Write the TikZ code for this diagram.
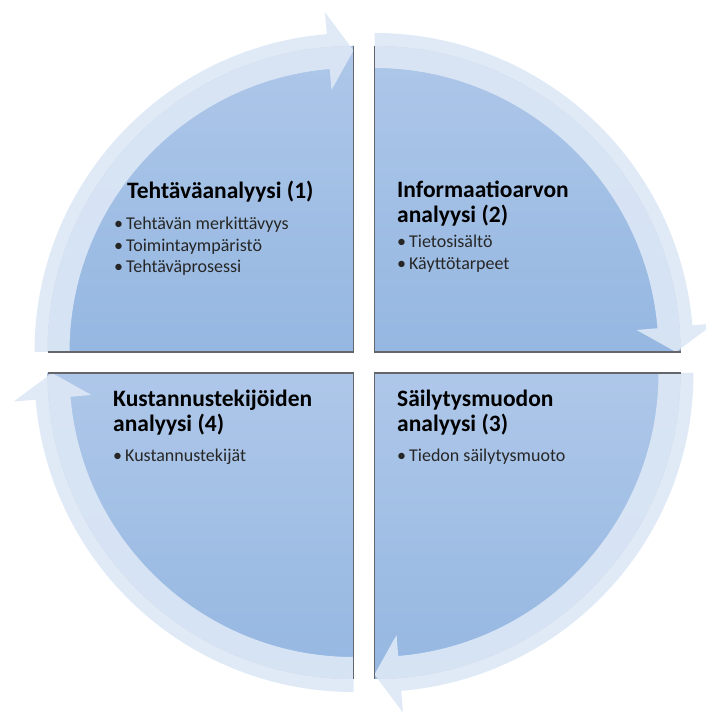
\documentclass[tikz,border=0pt]{standalone}
\usepackage{fontspec}
\setmainfont{Carlito}
\usepackage{tikz}
\usetikzlibrary{positioning}
\definecolor{quartertop}{RGB}{174,199,233}
\definecolor{quarterbottom}{RGB}{149,183,225}
\definecolor{bandblue}{RGB}{221,232,246}
\definecolor{edgegray}{RGB}{100,102,108}
\tikzset{quarter/.style={top color=quartertop,bottom color=quarterbottom,draw=none},
  cycle band/.style={fill=bandblue,fill opacity=0.9},
  edge line/.style={draw=edgegray,line width=1.3pt},
  title text/.style={font=\fontsize{23.5}{25}\selectfont\bfseries,align=left,inner sep=0pt},
  point text/.style={font=\fontsize{18}{21.5}\selectfont,align=left,inner sep=0pt,text=black!85},}

\begin{document}
\begin{tikzpicture}[x=1pt,y=1pt]
    \useasboundingbox (0,0) rectangle (705,715);
    \coordinate (c1) at (353.5,363);
    \coordinate (c2) at (374.5,363);
    \coordinate (c3) at (374.5,342);
    \coordinate (c4) at (353.5,342);

    % quarter discs
    \fill[quarter,shift={(c1)}] (0,0) -- (180:306) arc[start angle=180,end angle=90,radius=306] -- cycle;
    \fill[quarter,shift={(c2)}] (0,0) -- (90:306) arc[start angle=90,end angle=0,radius=306] -- cycle;
    \fill[quarter,shift={(c3)}] (0,0) -- (0:306) arc[start angle=0,end angle=-90,radius=306] -- cycle;
    \fill[quarter,shift={(c4)}] (0,0) -- (-90:306) arc[start angle=-90,end angle=-180,radius=306] -- cycle;

    % curved arrows round the outside
    \fill[cycle band,shift={(c1)}] (180:319) arc[start angle=180,end angle=94.8,radius=319]
        -- (94.8:341) -- (90:301.5) -- (94.8:263) -- (94.8:284)
        arc[start angle=94.8,end angle=180,radius=284] -- cycle;
    \fill[cycle band,shift={(c2)}] (90:319) arc[start angle=90,end angle=4.8,radius=319]
        -- (4.8:341) -- (0:301.5) -- (4.8:263) -- (4.8:284)
        arc[start angle=4.8,end angle=90,radius=284] -- cycle;
    \fill[cycle band,shift={(c3)}] (0:319) arc[start angle=0,end angle=-85.2,radius=319]
        -- (-85.2:341) -- (-90:301.5) -- (-85.2:263) -- (-85.2:284)
        arc[start angle=-85.2,end angle=0,radius=284] -- cycle;
    \fill[cycle band,shift={(c4)}] (-90:319) arc[start angle=-90,end angle=-175.2,radius=319]
        -- (-175.2:341) -- (180:301.5) -- (-175.2:263) -- (-175.2:284)
        arc[start angle=-175.2,end angle=-90,radius=284] -- cycle;

    % straight edges
    \draw[edge line,shift={(c1)}] (90:306) -- (0,0) -- (180:306);
    \draw[edge line,shift={(c2)}] (90:306) -- (0,0) -- (0:306);
    \draw[edge line,shift={(c3)}] (0:306) -- (0,0) -- (-90:306);
    \draw[edge line,shift={(c4)}] (-90:306) -- (0,0) -- (180:306);

    \node[title text,anchor=base west] (t1) at (127,516) {Tehtäväanalyysi (1)};
    \node[point text,below right=14pt and -13pt of t1.south west] (p1)
        {\textbullet\hspace{3pt}Tehtävän merkittävyys\\ \textbullet\hspace{3pt}Toimintaympäristö\\ \textbullet\hspace{3pt}Tehtäväprosessi};

    \node[title text,anchor=base west] (t2) at (397,492) {Informaatioarvon\\analyysi (2)};
    \node[point text,below right=8pt and 0pt of t2.south west] (p2)
        {\textbullet\hspace{3pt}Tietosisältö\\ \textbullet\hspace{3pt}Käyttötarpeet};

    \node[title text,anchor=base west] (t3) at (397,283) {Säilytysmuodon\\analyysi (3)};
    \node[point text,below right=13pt and 0pt of t3.south west] (p3)
        {\textbullet\hspace{3pt}Tiedon säilytysmuoto};

    \node[title text,anchor=base west] (t4) at (113,283) {Kustannustekijöiden\\analyysi (4)};
    \node[point text,below right=13pt and 0pt of t4.south west] (p4)
        {\textbullet\hspace{3pt}Kustannustekijät};
\end{tikzpicture}
\end{document}
